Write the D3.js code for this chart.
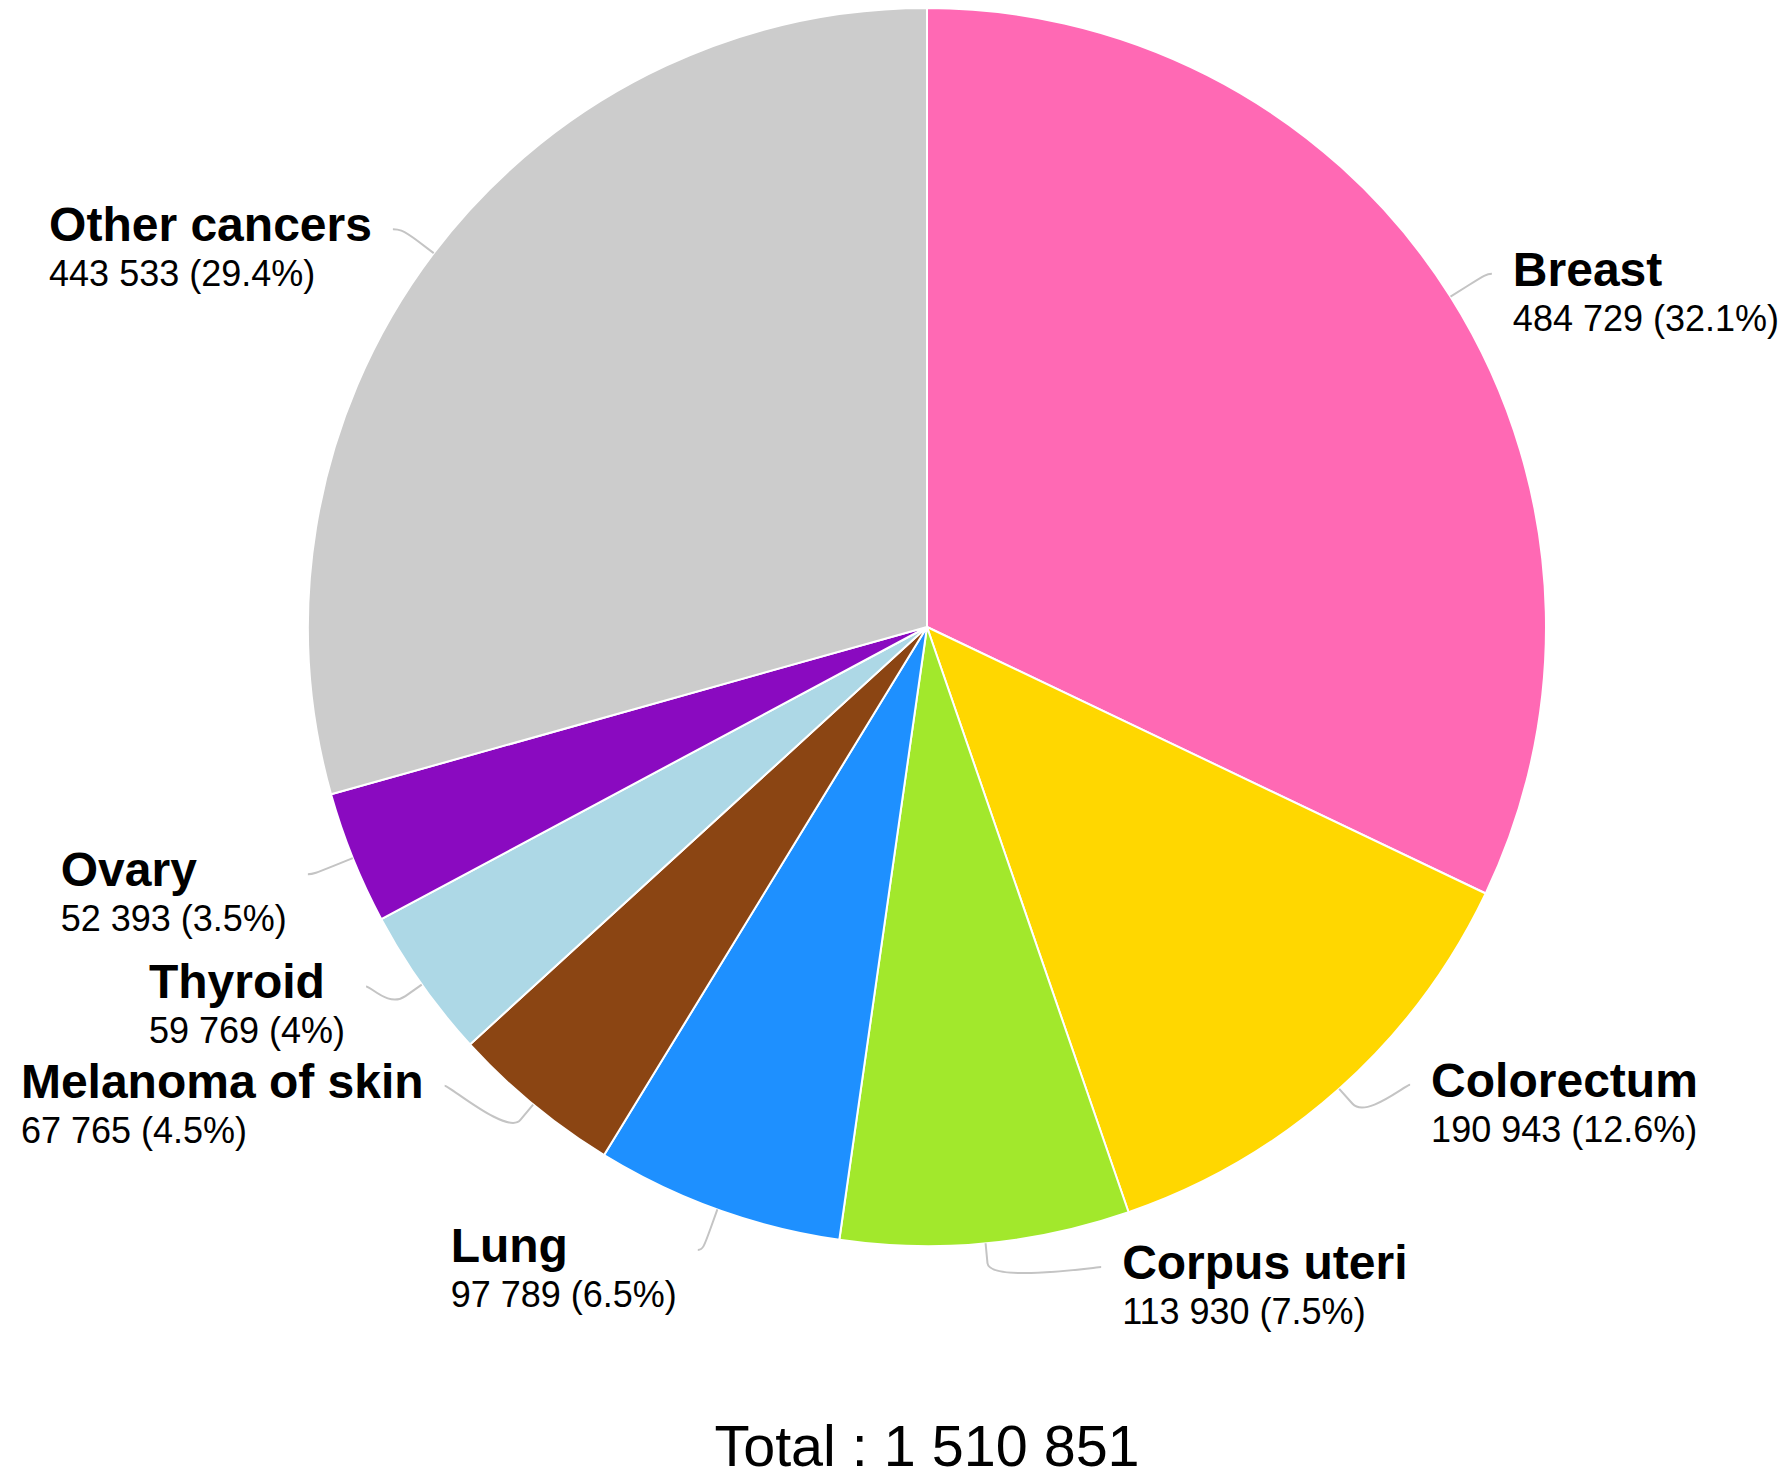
<!DOCTYPE html>
<html>
<head>
<meta charset="utf-8">
<script src="https://cdn.jsdelivr.net/npm/d3@7"></script>
<style>
  html, body { margin: 0; padding: 0; background: #ffffff; }
  svg { display: block; }
  text { font-family: "Liberation Sans", Arial, Helvetica, sans-serif; fill: #000; }
</style>
</head>
<body>
<svg id="chart" width="1792" height="1477"></svg>
<script>
// ---- data ----
const categories = ["Breast", "Colorectum", "Corpus uteri", "Lung", "Melanoma of skin", "Thyroid", "Ovary", "Other cancers"];
const values = [484729, 190943, 113930, 97789, 67765, 59769, 52393, 443533];
const colors = ["#FF69B4", "#FFD700", "#A2E82C", "#1E90FF", "#8B4513", "#ADD8E6", "#8A0AC0", "#CCCCCC"];
// layout: vertical nudge of each label from its natural position (collision spacing)
const labelNudge = [0, -36, -19, 0, -52, -23, 0, 2];

// ---- layout constants ----
const W = 1792, H = 1477;
const cx = 927, cy = 627, r = 619;
const labelR = r + 43;     // ring on which connector ends sit
const breakR = r + 20;     // where the connector bends
const pad = 5, textGap = 21;

const locale = d3.formatLocale({ decimal: ".", thousands: " ", grouping: [3], currency: ["", ""] });
const fmtInt = locale.format(",d");
const total = d3.sum(values);
const pctText = v => {
  const p = Math.round(v / total * 1000) / 10;
  return (Number.isInteger(p) ? p.toFixed(0) : p.toFixed(1)) + "%";
};

const svg = d3.select("#chart");
const g = svg.append("g").attr("transform", `translate(${cx},${cy})`);

const pie = d3.pie().sort(null).value(d => d.value).startAngle(0).endAngle(2 * Math.PI);
const data = categories.map((c, i) => ({ name: c, value: values[i], color: colors[i], nudge: labelNudge[i] }));
const arcs = pie(data);
const arc = d3.arc().innerRadius(0).outerRadius(r);

g.selectAll("path.slice")
  .data(arcs)
  .join("path")
  .attr("class", "slice")
  .attr("d", arc)
  .attr("fill", d => d.data.color)
  .attr("stroke", "#ffffff")
  .attr("stroke-width", 2)
  .attr("stroke-linejoin", "round");

const pt = (a, rho) => [rho * Math.sin(a), -rho * Math.cos(a)];

const labels = svg.append("g");
arcs.forEach(d => {
  const a = (d.startAngle + d.endAngle) / 2;
  const right = a < Math.PI;
  const T = pt(a, r).map((v, k) => v + (k ? cy : cx));
  const B = pt(a, breakR).map((v, k) => v + (k ? cy : cx));
  const ly = cy - labelR * Math.cos(a) + d.data.nudge;
  const dy = ly - cy;
  const dx = Math.sqrt(Math.max(0, labelR * labelR - dy * dy)) + pad;
  const lx = right ? cx + dx : cx - dx;

  const c1x = right ? lx - 5 : lx + 5;
  const path = `M${lx},${ly} C${c1x},${ly} ${2 * B[0] - T[0]},${2 * B[1] - T[1]} ${B[0]},${B[1]} L${T[0]},${T[1]}`;
  labels.append("path")
    .attr("d", path)
    .attr("fill", "none")
    .attr("stroke", "#c4c4c4")
    .attr("stroke-width", 2);

  const grp = labels.append("g");
  const t1 = grp.append("text")
    .attr("y", ly + 12)
    .attr("font-size", 48)
    .attr("font-weight", "bold")
    .text(d.data.name);
  const t2 = grp.append("text")
    .attr("y", ly + 57)
    .attr("font-size", 36)
    .text(`${fmtInt(d.data.value)} (${pctText(d.data.value)})`);
  const boxW = Math.max(t1.node().getComputedTextLength(), t2.node().getComputedTextLength());
  const tx = right ? lx + textGap : lx - textGap - boxW;
  t1.attr("x", tx);
  t2.attr("x", tx);
});

svg.append("text")
  .attr("x", cx)
  .attr("y", 1466)
  .attr("text-anchor", "middle")
  .attr("font-size", 57.5)
  .text(`Total : ${fmtInt(total)}`);
</script>
</body>
</html>
